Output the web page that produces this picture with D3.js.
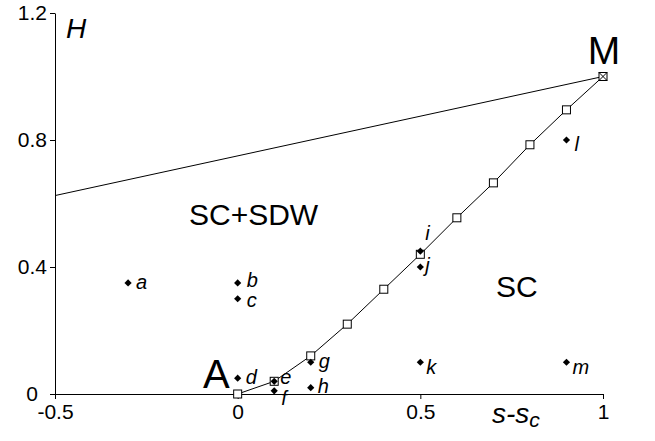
<!DOCTYPE html>
<html>
<head>
<meta charset="utf-8">
<script src="https://cdn.jsdelivr.net/npm/d3@7"></script>
<style>
  body { margin: 0; background: #fff; }
  text { font-family: Arial, "Liberation Sans", sans-serif; }
</style>
</head>
<body>
<svg id="chart"></svg>
<script>
const W = 655, H = 441

// phase boundary (open squares)
const boundaryX = [0, 0.1, 0.2, 0.3, 0.4, 0.5, 0.6, 0.7, 0.8, 0.9, 1.0]
const boundaryY = [0, 0.04, 0.12, 0.22, 0.33, 0.44, 0.555, 0.665, 0.785, 0.895, 1.0]

// upper straight line
const upperX = [-0.5, 1.0]
const upperY = [0.625, 1.0]

// labelled sample points (diamonds)
const pointNames = ['a', 'b', 'c', 'd', 'e', 'f', 'g', 'h', 'i', 'j', 'k', 'l', 'm']
const pointX = [-0.3, 0, 0, 0, 0.1, 0.1, 0.2, 0.2, 0.5, 0.5, 0.5, 0.9, 0.9]
const pointY = [0.35, 0.35, 0.30, 0.05, 0.04, 0.01, 0.10, 0.02, 0.45, 0.40, 0.10, 0.80, 0.10]

const xTicks = [-0.5, 0, 0.5, 1]
const yTicks = [0, 0.4, 0.8, 1.2]

const svg = d3.select('#chart').attr('width', W).attr('height', H)

const x = d3.scaleLinear().domain([-0.5, 1]).range([55, 603])
const y = d3.scaleLinear().domain([0, 1.2]).range([394, 13])

// plain hyphen for negatives, like the original
const fmt = d => d === 0 || d === 1 ? String(d) : d.toFixed(1)

// axes
svg.append('g')
  .attr('transform', `translate(0,${y(0)})`)
  .call(d3.axisBottom(x).tickValues(xTicks).tickSize(5).tickSizeOuter(0).tickFormat(fmt))
  .call(g => g.select('.domain').attr('stroke', '#000'))
  .call(g => g.selectAll('text').attr('font-size', 21).attr('fill', '#000').attr('dy', '0.8em'))

svg.append('g')
  .attr('transform', `translate(${x(-0.5)},0)`)
  .call(d3.axisLeft(y).tickValues(yTicks).tickSize(5).tickSizeOuter(0).tickFormat(fmt))
  .call(g => g.select('.domain').attr('stroke', '#000'))
  .call(g => g.selectAll('text').attr('font-size', 21).attr('fill', '#000'))
  .call(g => g.selectAll('.tick').filter(d => d === 0).select('text').attr('x', -17))

// upper line
svg.append('line')
  .attr('x1', x(upperX[0])).attr('y1', y(upperY[0]))
  .attr('x2', x(upperX[1])).attr('y2', y(upperY[1]))
  .attr('stroke', '#000').attr('stroke-width', 1)

// boundary curve
const bData = boundaryX.map((v, i) => [v, boundaryY[i]])
svg.append('path')
  .datum(bData)
  .attr('fill', 'none')
  .attr('stroke', '#000')
  .attr('stroke-width', 1)
  .attr('d', d3.line().x(d => x(d[0])).y(d => y(d[1])))

svg.append('g')
  .selectAll('rect')
  .data(bData)
  .join('rect')
    .attr('x', d => x(d[0]) - 4)
    .attr('y', d => y(d[1]) - 4)
    .attr('width', 8).attr('height', 8)
    .attr('fill', '#fff')
    .attr('stroke', '#000')
    .attr('stroke-width', 1)

// cross in M square
const mx = x(1), my = y(1)
svg.append('path')
  .attr('d', `M${mx - 4},${my - 4}L${mx + 4},${my + 4}M${mx + 4},${my - 4}L${mx - 4},${my + 4}`)
  .attr('stroke', '#000').attr('stroke-width', 1)

// diamonds
const pts = pointNames.map((n, i) => ({ n, x: pointX[i], y: pointY[i] }))
svg.append('g')
  .selectAll('path')
  .data(pts)
  .join('path')
    .attr('transform', d => `translate(${x(d.x)},${y(d.y)})`)
    .attr('d', 'M0,-3.6L3.6,0L0,3.6L-3.6,0Z')
    .attr('fill', '#000')

// label offsets from each diamond [dx, baseline dy]
const labelOffset = {
  a: [8, 6], b: [9, 4], c: [9, 8], d: [8, 6], e: [6, 3], f: [7, 14],
  g: [8, 6], h: [7, 5], i: [5, -11], j: [5, 5], k: [6, 12], l: [8, 11], m: [6, 12]
}
svg.append('g')
  .selectAll('text')
  .data(pts)
  .join('text')
    .attr('x', d => x(d.x) + labelOffset[d.n][0])
    .attr('y', d => y(d.y) + labelOffset[d.n][1])
    .attr('font-size', 20)
    .attr('font-style', 'italic')
    .text(d => d.n)

// region / point labels
svg.append('text').attr('x', 66).attr('y', 38).attr('font-size', 28).attr('font-style', 'italic').text('H')
svg.append('text').attr('x', 604).attr('y', 64).attr('font-size', 39).attr('text-anchor', 'middle').text('M')
svg.append('text').attr('x', 203).attr('y', 388).attr('font-size', 40).text('A')
svg.append('text').attr('x', 189).attr('y', 225).attr('font-size', 30).text('SC+SDW')
svg.append('text').attr('x', 496).attr('y', 297).attr('font-size', 30).text('SC')

const xl = svg.append('text').attr('x', 492).attr('y', 423).attr('font-size', 28).attr('font-style', 'italic')
xl.append('tspan').text('s-s')
xl.append('tspan').attr('font-size', 21).attr('dy', 4).text('c')
</script>
</body>
</html>
